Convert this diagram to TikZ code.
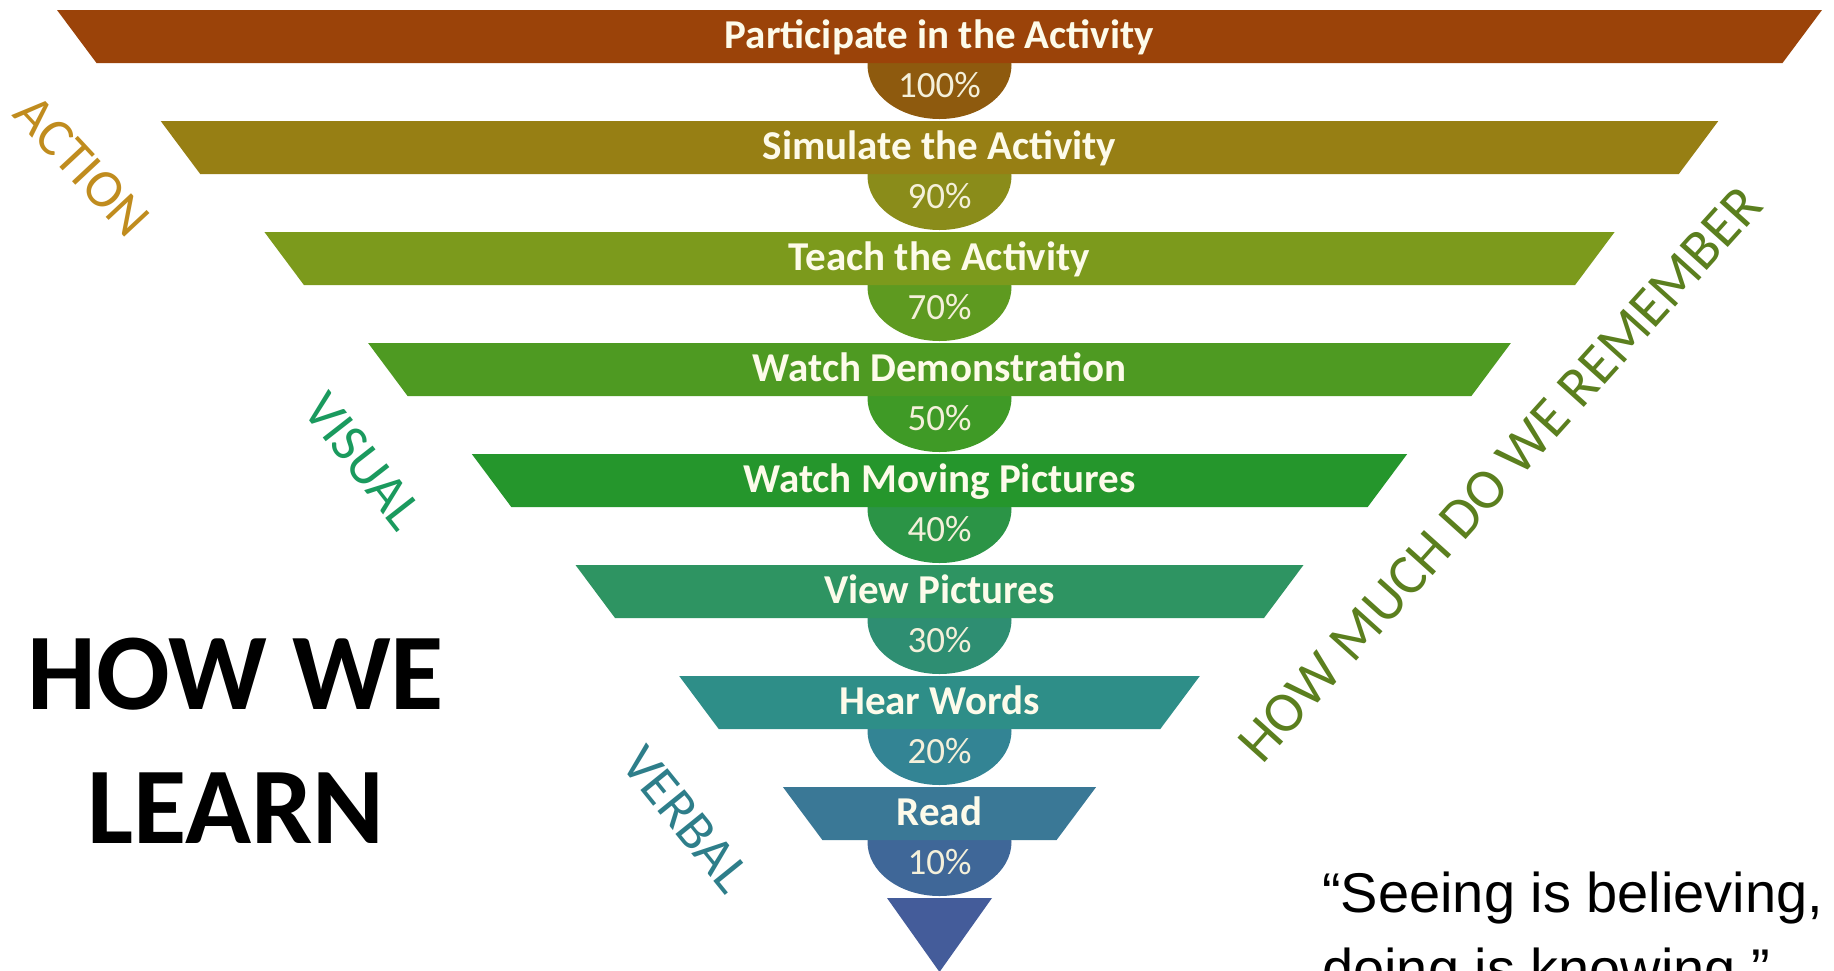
\documentclass[tikz,border=0pt]{standalone}
\usepackage{fontspec}
\setmainfont{Carlito}
\newfontfamily\quotefont{Liberation Sans}
\definecolor{bandA}{HTML}{9B4309}
\definecolor{bandB}{HTML}{977F14}
\definecolor{bandC}{HTML}{7C9A1C}
\definecolor{bandD}{HTML}{4E9A22}
\definecolor{bandE}{HTML}{25962C}
\definecolor{bandF}{HTML}{2E9462}
\definecolor{bandG}{HTML}{2E8E88}
\definecolor{bandH}{HTML}{3A7896}
\definecolor{ellA}{HTML}{8E5A0E}
\definecolor{ellB}{HTML}{8A8C1A}
\definecolor{ellC}{HTML}{5E9A20}
\definecolor{ellD}{HTML}{3F9A26}
\definecolor{ellE}{HTML}{2B9446}
\definecolor{ellF}{HTML}{2E8E72}
\definecolor{ellG}{HTML}{338494}
\definecolor{ellH}{HTML}{3F6798}
\definecolor{tricol}{HTML}{445C9A}
\definecolor{labeltext}{HTML}{FDFBEA}
\definecolor{pcttext}{HTML}{F4F0DA}
\definecolor{actioncol}{HTML}{C08C1E}
\definecolor{visualcol}{HTML}{1A9A5E}
\definecolor{verbalcol}{HTML}{2E7E8A}
\definecolor{remcol}{HTML}{5B7F1E}
\begin{document}
\begin{tikzpicture}[x=1pt,y=1pt,
  lbl/.style={text=labeltext, font=\bfseries\fontsize{41}{49}\selectfont, anchor=base, inner sep=0pt},
  pct/.style={text=pcttext, font=\fontsize{37}{44}\selectfont, anchor=base, inner sep=0pt},
  side/.style={font=\fontsize{54}{64}\selectfont, inner sep=0pt},
  title/.style={font=\bfseries\fontsize{109}{130}\selectfont, anchor=base, inner sep=0pt},
  quote/.style={font=\quotefont\fontsize{56}{67}\selectfont, anchor=base west, inner sep=0pt}
]
\useasboundingbox (0,0) rectangle (1834,-970);
\clip (0,0) rectangle (1834,-970);
\fill[white] (0,0) rectangle (1834,-970);

\foreach \k/\bc/\ec/\txt/\p in {
  0/bandA/ellA/{Participate in the Activity}/{100\%},
  1/bandB/ellB/{Simulate the Activity}/{90\%},
  2/bandC/ellC/{Teach the Activity}/{70\%},
  3/bandD/ellD/{Watch Demonstration}/{50\%},
  4/bandE/ellE/{Watch Moving Pictures}/{40\%},
  5/bandF/ellF/{View Pictures}/{30\%},
  6/bandG/ellG/{Hear Words}/{20\%},
  7/bandH/ellH/{Read}/{10\%}}{
  \pgfmathsetmacro\yt{-10-111*\k}
  \pgfmathsetmacro\yb{\yt-53}
  \pgfmathsetmacro\wt{882.5-103.7*\k}
  \pgfmathsetmacro\wb{\wt-39.5}
  \fill[\ec] (939.5,\yb-2) ellipse [x radius=72, y radius=54];
  \fill[\bc] (939.5-\wt,\yt) -- (939.5+\wt,\yt) -- (939.5+\wb,\yb) -- (939.5-\wb,\yb) -- cycle;
  \node[lbl] (band\k) at (939.5,\yt-38) {\txt};
  \node[pct] (pct\k) at (939.5,\yt-87) {\p};
}
\fill[tricol] (887,-898) -- (992,-898) -- (939.5,-972) -- cycle;

\node[side, text=actioncol, rotate=-47] (action) at (82,-166) {ACTION};
\node[side, text=visualcol, rotate=-52] (visual) at (363,-461) {VISUAL};
\node[side, text=verbalcol, rotate=-51] (verbal) at (686,-819) {VERBAL};
\node[font=\fontsize{57}{68}\selectfont, text=remcol, rotate=48, inner sep=0pt] (remember) at (1500,-474) {HOW MUCH DO WE REMEMBER};

\node[title] (title1) at (236,-709) {HOW WE};
\node[title] (title2) at (236,-843) {LEARN};

\node[quote] (quote1) at (1322,-912) {“Seeing is believing,};
\node[quote] (quote2) at (1322,-988) {doing is knowing.”};
\end{tikzpicture}
\end{document}
